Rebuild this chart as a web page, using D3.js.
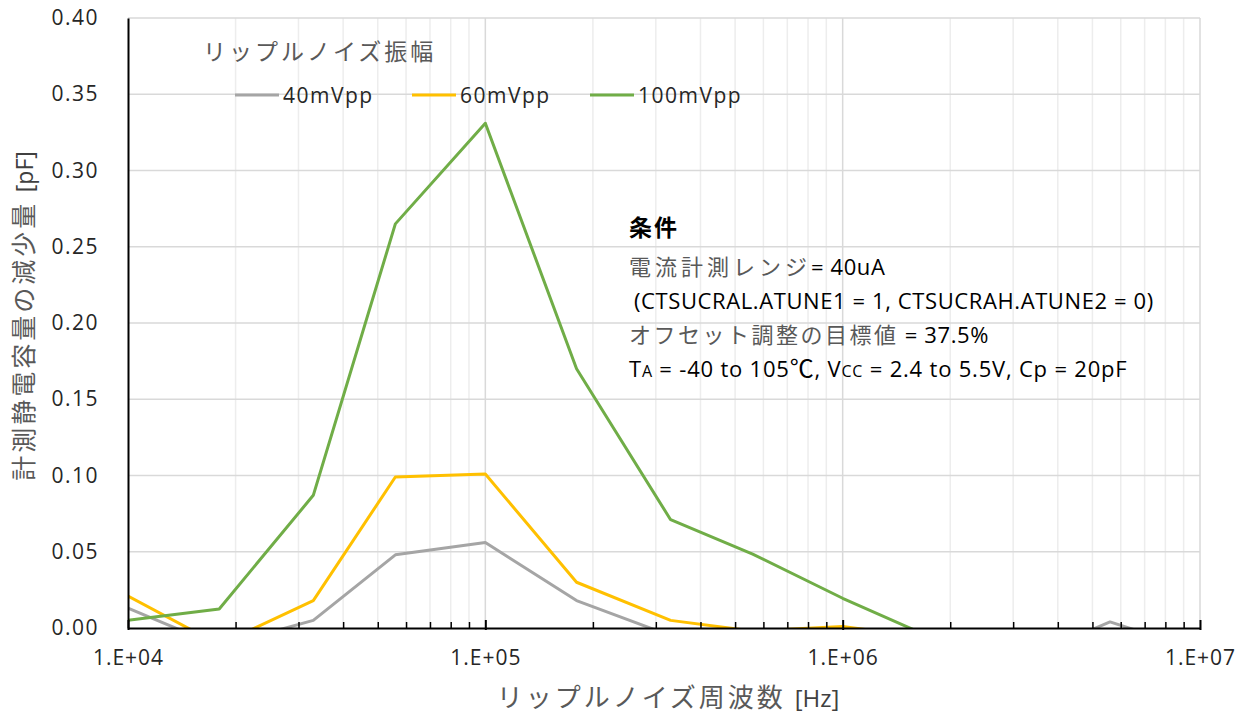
<!DOCTYPE html>
<html>
<head>
<meta charset="utf-8">
<script src="https://cdn.jsdelivr.net/npm/d3@7"></script>
<style>
  body { margin: 0; background: #fff; }
  svg { display: block; }
</style>
</head>
<body>
<script>
const freqs = [1e4, 1.8e4, 3.3e4, 5.6e4, 1e5, 1.8e5, 3.3e5, 5.6e5, 1e6, 1.8e6, 3.3e6, 5.6e6, 1e7];
const ripple40 = [0.013, -0.012, 0.005, 0.048, 0.056, 0.018, -0.005, -0.015, -0.02, -0.03, -0.019, 0.004, -0.015];
const ripple60 = [0.021, -0.011, 0.018, 0.099, 0.101, 0.030, 0.005, -0.002, 0.001, -0.007, -0.01, -0.01, -0.01];
const ripple100 = [0.005, 0.0125, 0.087, 0.265, 0.331, 0.170, 0.071, 0.0485, 0.0195, -0.007, -0.02, -0.015, -0.02];
const seriesNames = ['40mVpp', '60mVpp', '100mVpp'];
const seriesColors = ['#A5A5A5', '#FFC000', '#70AD47'];
const yTicks = [0, 0.05, 0.10, 0.15, 0.20, 0.25, 0.30, 0.35, 0.40];
const xTicks = [1e4, 1e5, 1e6, 1e7];
const xTickLabels = ['1.E+04', '1.E+05', '1.E+06', '1.E+07'];

const width = 1247;
const height = 715;
const plotLeft = 128, plotRight = 1200, plotTop = 18, plotBottom = 628;
const latin = '"Open Sans", "Noto Sans", sans-serif';
const cjk = '"Noto Sans CJK JP", sans-serif';

const xScale = d3.scaleLog().domain([1e4, 1e7]).range([plotLeft, plotRight]);
const yScale = d3.scaleLinear().domain([0, 0.4]).range([plotBottom, plotTop]);

const svg = d3.select('body').append('svg')
    .attr('width', width)
    .attr('height', height);

// grid
const minor = xScale.ticks().filter(d => !xTicks.includes(d));
svg.append('g').selectAll('line')
    .data(minor).enter().append('line')
    .attr('x1', d => xScale(d)).attr('x2', d => xScale(d))
    .attr('y1', plotTop).attr('y2', plotBottom)
    .attr('stroke', '#ededed').attr('stroke-width', 1.5);

svg.append('g').selectAll('line')
    .data(yTicks.slice(1)).enter().append('line')
    .attr('x1', plotLeft).attr('x2', plotRight)
    .attr('y1', d => yScale(d)).attr('y2', d => yScale(d))
    .attr('stroke', '#d9d9d9').attr('stroke-width', 1.5);

svg.append('g').selectAll('line')
    .data(xTicks.slice(1)).enter().append('line')
    .attr('x1', d => xScale(d)).attr('x2', d => xScale(d))
    .attr('y1', plotTop).attr('y2', plotBottom)
    .attr('stroke', '#d9d9d9').attr('stroke-width', 1.5);

// lines
svg.append('clipPath').attr('id', 'plot')
   .append('rect')
   .attr('x', plotLeft).attr('y', plotTop)
   .attr('width', plotRight - plotLeft).attr('height', plotBottom - plotTop);

const allSeries = [ripple40, ripple60, ripple100];
const line = d3.line()
    .x((d, i) => xScale(freqs[i]))
    .y(d => yScale(d));

svg.append('g').attr('clip-path', 'url(#plot)')
   .selectAll('path')
   .data(allSeries).enter().append('path')
   .attr('d', d => line(d))
   .attr('fill', 'none')
   .attr('stroke', (d, i) => seriesColors[i])
   .attr('stroke-width', 3)
   .attr('stroke-linejoin', 'round');

// axes
const yAxis = d3.axisLeft(yScale).tickValues(yTicks).tickSize(0).tickPadding(29)
    .tickFormat(d3.format('.2f'));
const gy = svg.append('g').attr('transform', `translate(${plotLeft},0)`).call(yAxis);
gy.select('.domain').attr('stroke', '#000').attr('stroke-width', 2);
gy.selectAll('text').attr('font-family', latin).attr('font-size', 21)
  .attr('letter-spacing', 1.5).attr('fill', '#262626');

const gMinor = svg.append('g').attr('transform', `translate(0,${plotBottom})`)
    .call(d3.axisBottom(xScale).tickValues(minor).tickSize(-6).tickFormat(''));
gMinor.select('.domain').remove();
gMinor.selectAll('line').attr('stroke', '#000').attr('stroke-width', 1.5);

const xAxis = d3.axisBottom(xScale).tickValues(xTicks).tickSizeInner(-8).tickSizeOuter(0).tickPadding(22)
    .tickFormat((d, i) => xTickLabels[i]);
const gx = svg.append('g').attr('transform', `translate(0,${plotBottom})`).call(xAxis);
gx.select('.domain').attr('stroke', '#000').attr('stroke-width', 2);
gx.selectAll('line').attr('stroke', '#000').attr('stroke-width', 2).attr('y1', 2);
gx.selectAll('text').attr('font-family', latin).attr('font-size', 21)
  .attr('letter-spacing', 1).attr('fill', '#262626');

// axis titles
const yTitle = svg.append('text')
    .attr('transform', 'translate(33,316) rotate(-90)')
    .attr('text-anchor', 'middle')
    .attr('font-size', 25);
yTitle.append('tspan').attr('font-family', cjk).attr('letter-spacing', 3).attr('fill', '#595959').text('計測静電容量の減少量 ');
yTitle.append('tspan').attr('font-family', latin).attr('font-size', 23).attr('fill', '#404040').text('[pF]');

const xTitle = svg.append('text')
    .attr('x', 668).attr('y', 707)
    .attr('text-anchor', 'middle')
    .attr('font-size', 26);
xTitle.append('tspan').attr('font-family', cjk).attr('letter-spacing', 3).attr('fill', '#595959').text('リップルノイズ周波数 ');
xTitle.append('tspan').attr('font-family', latin).attr('font-size', 24).attr('fill', '#404040').text('[Hz]');

// legend
svg.append('text')
   .attr('x', 203).attr('y', 60)
   .attr('font-family', cjk).attr('font-size', 23).attr('letter-spacing', 3).attr('fill', '#595959')
   .text('リップルノイズ振幅');

const legendX = [235, 412, 590];
const legend = svg.append('g').selectAll('g')
    .data(seriesNames).enter().append('g')
    .attr('transform', (d, i) => `translate(${legendX[i]},95)`);
legend.append('line')
   .attr('x1', 0).attr('x2', 44)
   .attr('stroke', (d, i) => seriesColors[i]).attr('stroke-width', 3);
legend.append('text')
   .attr('x', 48).attr('y', 8)
   .attr('font-family', latin).attr('font-size', 21).attr('letter-spacing', 1.5).attr('fill', '#262626')
   .text(d => d);

// conditions note
const note = svg.append('g').attr('font-size', 22);
note.append('text')
    .attr('x', 629).attr('y', 236)
    .attr('font-family', cjk).attr('font-weight', 'bold').attr('font-size', 23)
    .attr('letter-spacing', 2).attr('fill', '#000')
    .text('条件');

const l1 = note.append('text').attr('x', 629).attr('y', 275);
l1.append('tspan').attr('font-family', cjk).attr('letter-spacing', 4).attr('fill', '#595959').text('電流計測レンジ');
l1.append('tspan').attr('font-family', latin).attr('letter-spacing', 0.6).attr('fill', '#000').text('= 40uA');

note.append('text').attr('x', 634).attr('y', 309)
    .attr('font-family', latin).attr('letter-spacing', 0.6).attr('fill', '#000')
    .text('(CTSUCRAL.ATUNE1 = 1, CTSUCRAH.ATUNE2 = 0)');

const l3 = note.append('text').attr('x', 629).attr('y', 343);
l3.append('tspan').attr('font-family', cjk).attr('letter-spacing', 2.5).attr('fill', '#595959').text('オフセット調整の目標値');
l3.append('tspan').attr('font-family', latin).attr('letter-spacing', 0.6).attr('fill', '#000').text(' = 37.5%');

const l4 = note.append('text').attr('x', 629).attr('y', 377)
    .attr('font-family', latin).attr('letter-spacing', 0.8).attr('fill', '#000');
l4.append('tspan').text('T');
l4.append('tspan').attr('font-size', 16).text('A');
l4.append('tspan').text(' = -40 to 105');
l4.append('tspan').attr('font-family', cjk).attr('font-size', 24).text('℃');
l4.append('tspan').text(', V');
l4.append('tspan').attr('font-size', 16).text('CC');
l4.append('tspan').text(' = 2.4 to 5.5V, Cp = 20pF');
</script>
</body>
</html>
